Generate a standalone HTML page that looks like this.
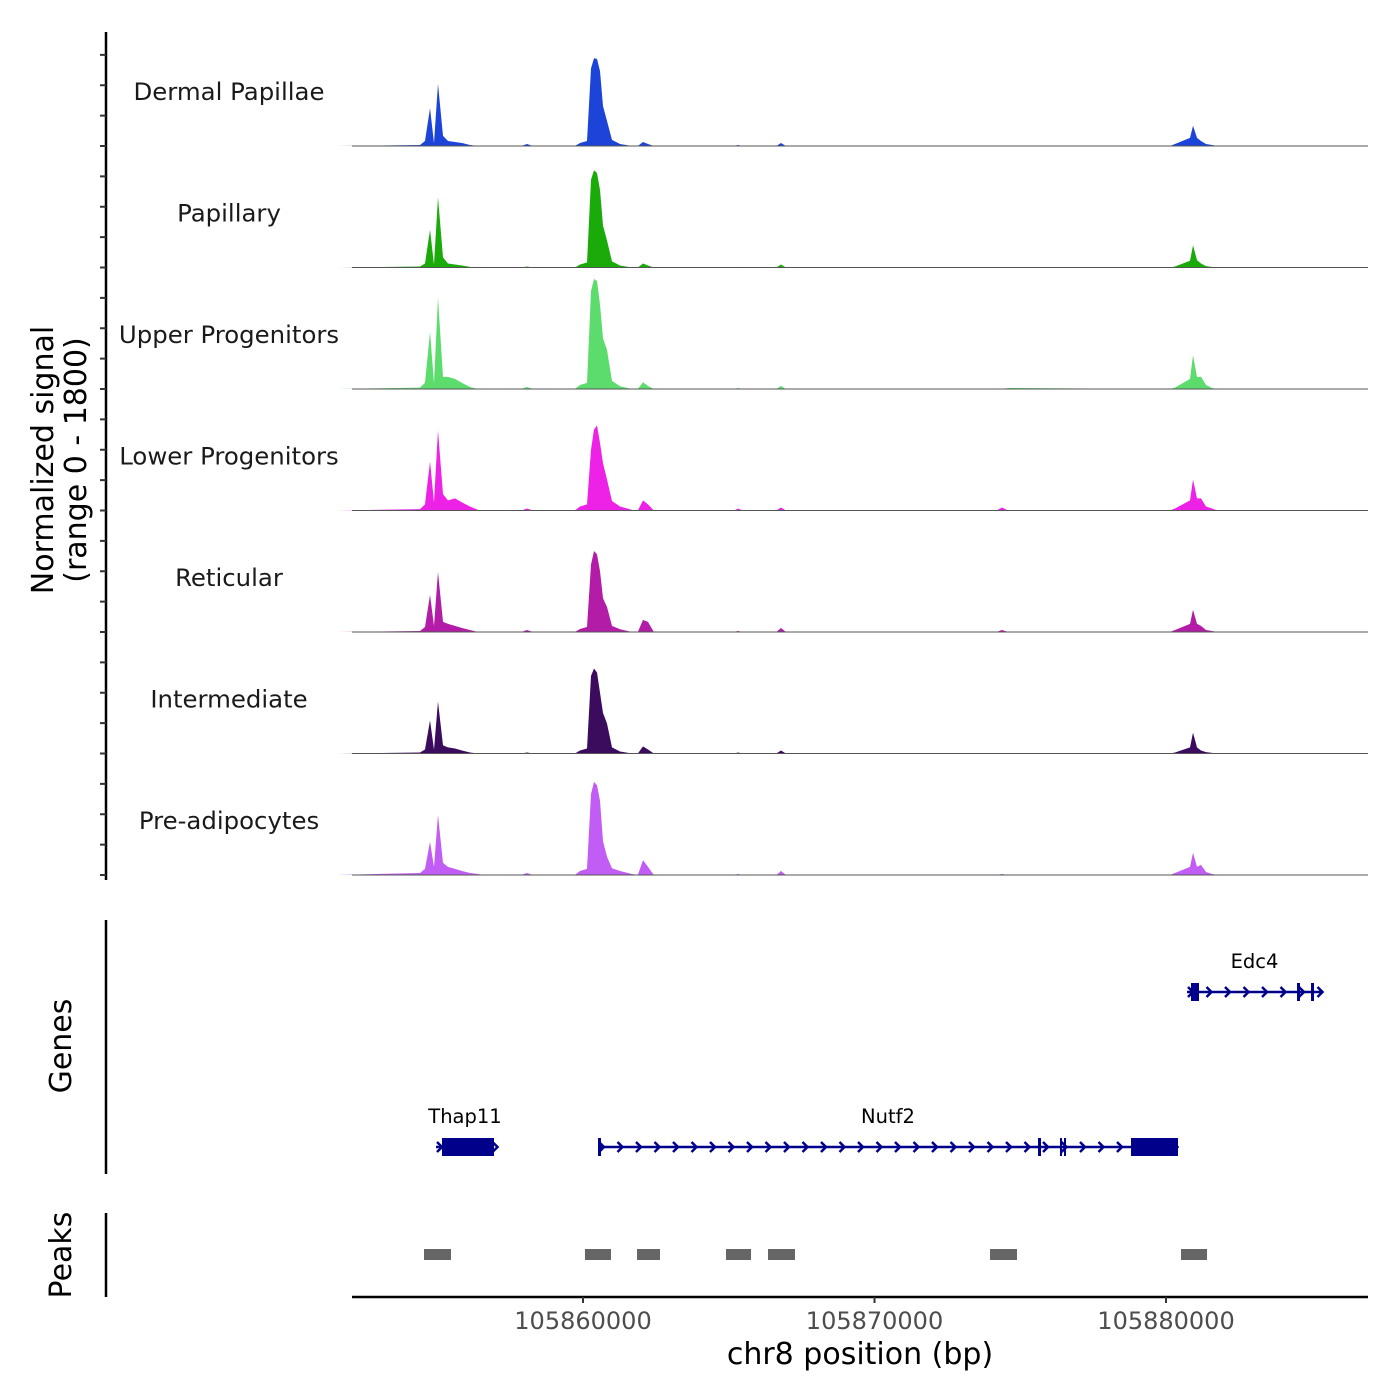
<!DOCTYPE html>
<html><head><meta charset="utf-8"><style>
html,body{margin:0;padding:0;background:#fff;}
svg{display:block;font-family:"DejaVu Sans","Liberation Sans",sans-serif;}
</style></head><body>
<svg id="chart" width="1400" height="1400" viewBox="0 0 1400 1400" xmlns="http://www.w3.org/2000/svg"></svg>
<script>
// ---- data ----
const xStart = 105852075, xEnd = 105886929;
const xTicks = [105860000, 105870000, 105880000];
const trackNames = ["Dermal Papillae","Papillary","Upper Progenitors","Lower Progenitors","Reticular","Intermediate","Pre-adipocytes"];
const trackColors = ["#1c44d9","#1aab0a","#5cdc6c","#ee22e6","#b21ca6","#3b0c5e","#c15cf5"];
const yMax = 1800;
const positions = [105851580,105854408,105854579,105854751,105854888,105855025,105855197,105855368,105855608,105855849,105856123,105856397,105856580,105857880,105858078,105858280,105859720,105859897,105860137,105860274,105860377,105860480,105860583,105860686,105860823,105860994,105861269,105861680,105861880,105862058,105862229,105862430,105865180,105865317,105865480,105866630,105866792,105866960,105874180,105874374,105874580,105880130,105880308,105880823,105880926,105881063,105881200,105881372,105881578,105881780];
const sigDermal  = [0,15,75,560,45,920,150,75,60,45,15,0,0,0,30,0,0,45,75,1150,1300,1290,1110,590,370,90,30,0,0,60,30,0,0,15,0,0,45,0,0,0,0,0,30,120,300,120,75,30,15,0];
const sigPapill  = [0,15,60,560,45,1040,150,60,45,30,10,0,0,0,15,0,0,45,75,1300,1440,1400,1150,620,400,90,30,0,0,60,30,0,0,10,0,0,45,0,0,0,0,0,15,100,330,110,60,20,10,0];
const sigUpper   = [0,20,90,845,90,1350,180,180,150,90,30,0,0,0,30,0,0,60,90,1450,1630,1600,1250,750,580,120,40,0,0,100,45,0,0,15,0,0,45,0,0,0,15,0,20,150,500,180,180,60,15,0];
const sigLower   = [0,20,90,725,120,1185,240,150,180,120,60,10,0,0,30,0,0,60,90,900,1200,1260,1000,700,460,140,60,10,0,150,90,0,0,30,0,0,45,0,0,45,0,0,30,150,460,180,180,60,30,0];
const sigRetic   = [0,15,75,550,90,890,150,120,90,60,30,0,0,0,30,0,0,45,75,1000,1200,1150,900,500,370,90,40,0,0,180,150,0,0,15,0,0,60,0,0,30,0,0,30,120,330,120,90,30,15,0];
const sigInter   = [0,15,60,490,60,770,120,90,75,45,15,0,0,0,15,0,0,45,75,1150,1260,1200,900,600,445,90,30,0,0,105,60,0,0,15,0,0,45,0,0,0,0,0,15,90,310,90,45,20,10,0];
const sigPreadip = [0,30,90,490,120,890,180,120,90,60,30,15,0,0,30,0,0,60,90,1200,1380,1330,1100,500,270,100,60,15,0,220,120,0,0,15,0,0,60,0,0,15,0,0,30,120,330,120,150,45,15,0];
const signals = [sigDermal,sigPapill,sigUpper,sigLower,sigRetic,sigInter,sigPreadip];
const geneNames = ["Thap11","Nutf2","Edc4"];
const geneStarts = [105854957,105860514,105880720];
const geneEnds = [105856946,105880411,105885351];
const geneRows = [1,1,0];
const exonStarts = [[105855162],[105860514,105875609,105876363,105876500,105878799],[105880857,105884494,105884974]];
const exonEnds = [[105856946],[105860617,105875712,105876432,105876569,105880411],[105881132,105884597,105885077]];
const peakStarts = [105854545,105860068,105861852,105864905,105866346,105873962,105880514];
const peakEnds = [105855471,105860960,105862641,105865763,105867272,105874888,105881406];

// ---- layout ----
const NS = "http://www.w3.org/2000/svg";
const svg = document.getElementById("chart");
const plotL = 352, plotR = 1368;
const trackH = 121.5, firstBase = 146;
function xs(v){ return plotL + (v - xStart) / (xEnd - xStart) * (plotR - plotL); }
function ys(v, i){ return firstBase + i*trackH - v / yMax * trackH; }
function mk(tag, attrs, parent){ const e = document.createElementNS(NS, tag); for (const k in attrs) e.setAttribute(k, attrs[k]); (parent||svg).appendChild(e); return e; }

// signal tracks
signals.forEach((vals, i) => {
  const base = firstBase + i*trackH;
  const g = mk("g", {});
  
  
  let d = "M" + plotL + "," + base;
  positions.forEach((p, j) => { d += " L" + xs(p).toFixed(2) + "," + ys(vals[j], i).toFixed(2); });
  d += " L" + plotR + "," + base + " Z";
  const a = mk("path", {d: d, fill: trackColors[i], stroke: "none"}, g);
  
  
  const bl = mk("line", {x1: plotL, x2: plotR, y1: base, y2: base, stroke: "#555", "stroke-width": 1}, g);
  
  
  const t = mk("text", {x: 229, y: base - 46, "text-anchor": "middle", "font-size": 24.4, fill: "#1a1a1a"}, g);
  t.textContent = trackNames[i];
  
  
});

// left y axis
const ya = mk("line", {x1: 106, x2: 106, y1: 32, y2: 880, stroke: "#000", "stroke-width": 2.5});


for (let i = 0; i < 7; i++) {
  for (let k = 0; k < 4; k++) {
    const y = firstBase + i*trackH - k*trackH/4;
    const tk = mk("line", {x1: 100, x2: 106, y1: y, y2: y, stroke: "#333", "stroke-width": 2});
    
    
  }
}
const yt = mk("text", {transform: "translate(53,460) rotate(-90)", "text-anchor": "middle", "font-size": 30, fill: "#000"});


const ts1 = mk("tspan", {x: 0, dy: 0}, yt); ts1.textContent = "Normalized signal";
const ts2 = mk("tspan", {x: 0, dy: 33}, yt); ts2.textContent = "(range 0 - 1800)";

// genes
const ga = mk("line", {x1: 106, x2: 106, y1: 920, y2: 1174, stroke: "#000", "stroke-width": 2.5});


const gt = mk("text", {transform: "translate(71,1046) rotate(-90)", "text-anchor": "middle", "font-size": 30, fill: "#000"});
gt.textContent = "Genes";


const geneColor = "#00008b";
geneNames.forEach((n, i) => {
  const y = geneRows[i] === 0 ? 992 : 1147;
  const g = mk("g", {});
  
  
  const x1 = xs(geneStarts[i]), x2 = xs(geneEnds[i]);
  mk("line", {x1: x1, x2: x2, y1: y, y2: y, stroke: geneColor, "stroke-width": 2.5}, g);
  for (let x = x1 + 4; x < x2 + 2; x += 18.5) {
    mk("path", {d: `M${x-3},${y-5} L${x+2},${y} L${x-3},${y+5}`, fill: "none", stroke: geneColor, "stroke-width": 2.5}, g);
  }
  exonStarts[i].forEach((s, j) => {
    const ex1 = xs(s), ex2 = xs(exonEnds[i][j]);
    const r = mk("rect", {x: ex1, y: y - 9, width: Math.max(ex2 - ex1, 2), height: 18, fill: geneColor}, g);
    
    
  });
  const lbl = mk("text", {x: (x1 + x2)/2, y: y - 24, "text-anchor": "middle", "font-size": 19.5, fill: "#000"}, g);
  lbl.textContent = n;
  
  
});

// peaks
const pa = mk("line", {x1: 106, x2: 106, y1: 1213, y2: 1297, stroke: "#000", "stroke-width": 2.5});


const pt = mk("text", {transform: "translate(71,1255) rotate(-90)", "text-anchor": "middle", "font-size": 30, fill: "#000"});
pt.textContent = "Peaks";


peakStarts.forEach((s, i) => {
  const r = mk("rect", {x: xs(s), y: 1249, width: xs(peakEnds[i]) - xs(s), height: 11, fill: "#666"});
  
  
});

// x axis
const xa = mk("line", {x1: plotL, x2: plotR, y1: 1297, y2: 1297, stroke: "#000", "stroke-width": 2.5});


xTicks.forEach(v => {
  const t = mk("line", {x1: xs(v), x2: xs(v), y1: 1297, y2: 1303, stroke: "#333", "stroke-width": 2});
  
  
  const l = mk("text", {x: xs(v), y: 1329, "text-anchor": "middle", "font-size": 24, fill: "#4d4d4d"});
  l.textContent = String(v);
  
  
});
const xt = mk("text", {x: 860, y: 1364, "text-anchor": "middle", "font-size": 30, fill: "#000"});
xt.textContent = "chr8 position (bp)";


</script>
</body></html>
